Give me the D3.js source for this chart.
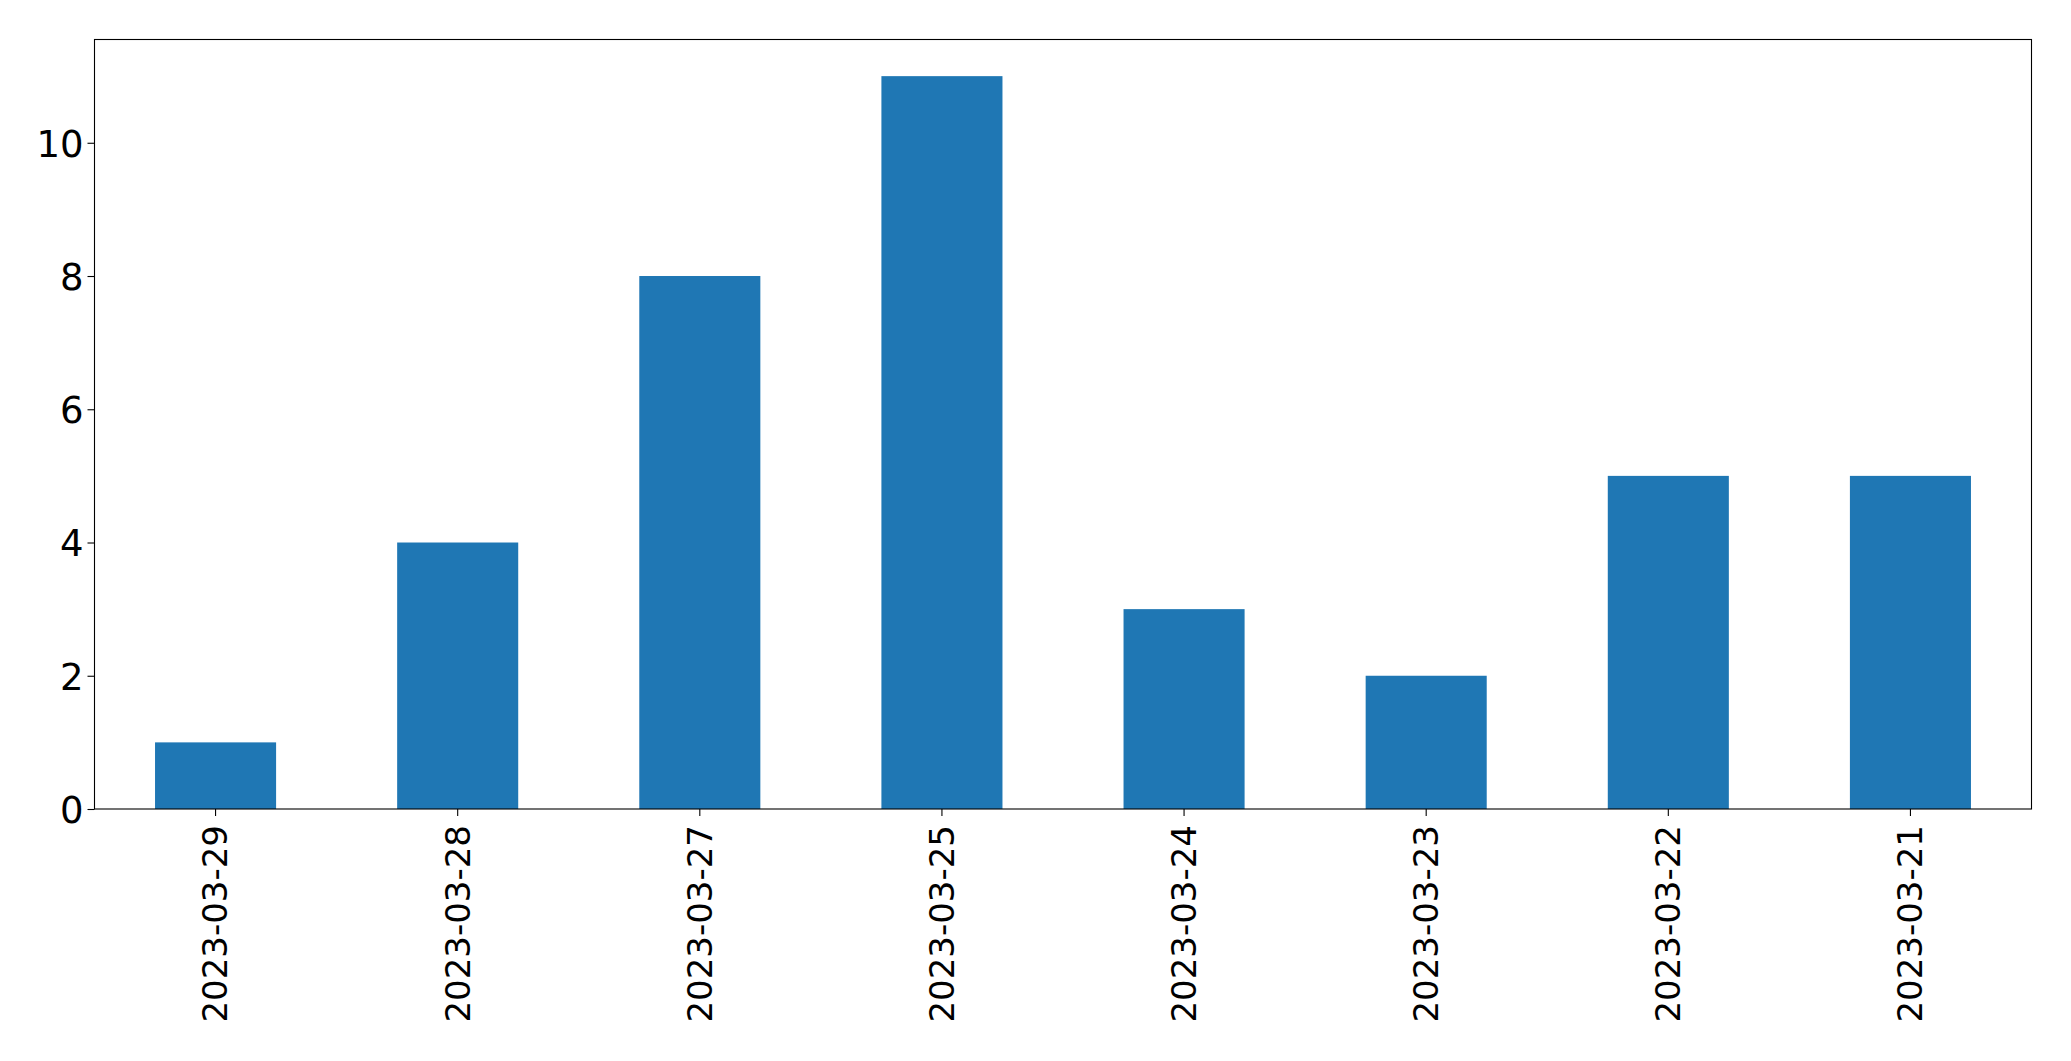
<!DOCTYPE html>
<html>
<head>
<meta charset="utf-8">
<script src="https://cdn.jsdelivr.net/npm/d3@7"></script>
<style>
html,body{margin:0;padding:0;background:#fff;}
svg{display:block;}
text{font-family:"DejaVu Sans",sans-serif;fill:#000;}
</style>
</head>
<body>
<svg id="chart" width="2071" height="1061"></svg>
<script>
const categories = ["2023-03-29","2023-03-28","2023-03-27","2023-03-25","2023-03-24","2023-03-23","2023-03-22","2023-03-21"];
const values = [1, 4, 8, 11, 3, 2, 5, 5];
const yTicks = [0, 2, 4, 6, 8, 10];

const mLeft = 94.5, mRight = 2031.5, mTop = 39.5, mBottom = 809;
const svg = d3.select("#chart");

const x = d3.scaleBand().domain(categories).range([mLeft, mRight]).paddingInner(0.5).paddingOuter(0.25);
const yMax = d3.max(values) * 1.05;
const y = d3.scaleLinear().domain([0, yMax]).range([mBottom, mTop]);

svg.append("g").selectAll("rect").data(values).join("rect")
  .attr("x", (d, i) => x(categories[i]))
  .attr("width", x.bandwidth())
  .attr("y", d => y(d))
  .attr("height", d => y(0) - y(d))
  .attr("fill", "#1f77b4");

// frame
svg.append("rect").attr("x", mLeft).attr("y", mTop).attr("width", mRight - mLeft).attr("height", mBottom - mTop)
  .attr("fill", "none").attr("stroke", "#000").attr("stroke-width", 1.1);

// y axis
const yAxis = svg.append("g").attr("transform", `translate(${mLeft},0)`)
  .call(d3.axisLeft(y).tickValues(yTicks).tickFormat(d3.format("d")).tickSize(7).tickPadding(4));
yAxis.select(".domain").remove();
yAxis.selectAll("line").attr("stroke", "#000").attr("stroke-width", 1.1);
yAxis.selectAll("text").style("font-size", "37px").attr("font-family", "DejaVu Sans").attr("dy", "0.36em");

// x axis
const xAxis = svg.append("g").attr("transform", `translate(0,${mBottom})`)
  .call(d3.axisBottom(x).tickSize(7).tickPadding(4));
xAxis.select(".domain").remove();
xAxis.selectAll("line").attr("stroke", "#000").attr("stroke-width", 1.1);
xAxis.selectAll("text")
  .style("font-size", "34px").attr("font-family", "DejaVu Sans")
  .attr("text-anchor", "end")
  .attr("dy", "0.35em")
  .attr("transform", "translate(0,16) rotate(-90)")
  .attr("y", 0).attr("x", 0);
</script>
</body>
</html>
